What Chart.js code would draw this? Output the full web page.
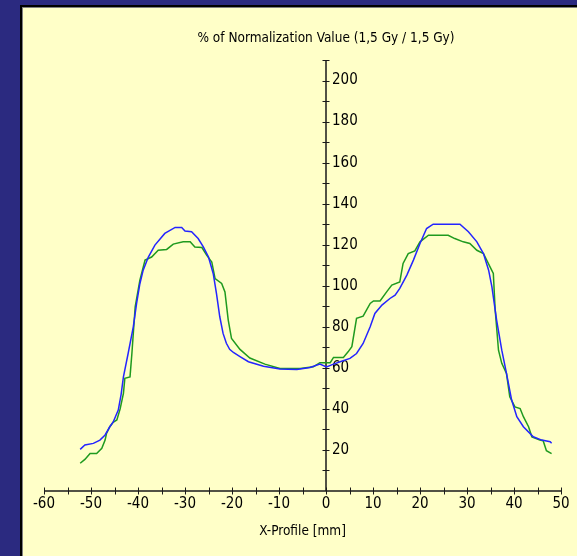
<!DOCTYPE html>
<html><head><meta charset="utf-8">
<script src="https://cdn.jsdelivr.net/npm/chart.js@4/dist/chart.umd.min.js"></script>
<style>html,body{margin:0;padding:0;background:#2b2a80;overflow:hidden}#wrap{position:relative;width:577px;height:556px}canvas{display:block}</style>
</head><body><div id="wrap"><canvas id="c" width="577" height="556"></canvas></div>
<script>
// ---- data ----
const chartTitle = "% of Normalization Value (1,5 Gy / 1,5 Gy)";
const xAxisTitle = "X-Profile [mm]";
const xTickLabels = [-60, -50, -40, -30, -20, -10, 0, 10, 20, 30, 40, 50];
const yTickLabels = [20, 40, 60, 80, 100, 120, 140, 160, 180, 200];
const xMinorStep = 5;
const yMinorStep = 10;

const blueX = [-52.3,-51.3,-49.5,-48.1,-47.0,-46.0,-45.3,-44.2,-43.6,-43.1,-42.1,-41.0,-40.3,-39.6,-38.9,-37.8,-36.4,-34.3,-32.1,-30.7,-30.0,-28.6,-27.2,-26.1,-25.0,-24.0,-23.3,-22.6,-21.9,-21.2,-20.5,-19.7,-18.3,-16.5,-13.3,-9.8,-6.2,-3.4,-1.3,0.1,1.6,3.0,5.1,6.5,7.9,9.4,10.4,11.9,13.6,14.7,15.7,17.2,18.6,20.0,21.4,22.8,28.5,30.3,32.1,33.5,34.6,35.3,36.3,37.4,38.4,39.5,40.6,42.0,44.1,45.9,47.7,48.0];
const blueY = [20.3,22.4,23.2,24.8,27.3,31.3,33.5,39.4,47,55.6,67,80,91.4,101,107.6,114,119.8,125.5,128.4,128.4,126.7,126.3,123,118.9,114,106,96.2,84.9,76.8,72,69,67.5,65.5,63,60.8,59.4,59.2,60.2,61.8,60.5,61.8,63,64.6,67,71.9,80,86.5,90.6,93.8,95.4,98.7,105.2,112.5,120.6,127.9,130,130,126.3,121.4,115.7,107.6,99.5,83.3,68.6,57.3,44.3,36.2,31.3,26.4,24.8,24.0,23.3];

const greenX = [-52.3,-51.3,-50.2,-48.8,-47.7,-47.0,-46.7,-46.0,-45.3,-44.5,-43.8,-43.1,-42.8,-41.7,-41.3,-40.6,-39.6,-38.5,-37.1,-35.7,-33.9,-32.5,-30.4,-28.9,-27.9,-26.4,-25.4,-24.3,-23.6,-22.2,-21.5,-20.8,-20.1,-18.3,-16.2,-13.0,-9.8,-5.5,-2.7,-1.3,0.9,1.6,3.7,4.7,5.5,6.5,7.9,9.4,10.1,11.5,12.9,14.0,15.7,16.4,17.5,18.9,20.0,21.8,26.0,27.4,29.2,30.6,32.1,33.5,34.9,35.6,36.0,36.7,37.4,38.4,39.1,40.2,41.3,42.0,43.1,43.8,45.5,46.2,46.9,48.0];
const greenY = [13.5,15.4,18.3,18.3,20.8,24.8,28,31.3,33.5,34.6,40,47.6,54.9,55.6,67,89.7,102.7,112.5,114,117.3,117.7,120.3,121.4,121.4,118.9,118.6,114.9,111.6,103.5,101.1,97,83.3,74.3,69,64.8,61.8,59.7,59.7,60.5,62.5,62.5,65.1,65.1,67.8,70.3,84.1,85.2,91.4,92.6,92.6,97,100.3,101.9,110.9,115.7,117,121.4,124.6,124.6,123,121.4,120.6,117.3,115.7,109.2,106,88.1,68.6,62.2,57.3,45.9,41,40.2,36.2,31.3,26.4,24.8,24.5,19.6,18.2];

const FONT = '"Liberation Sans Narrow","DejaVu Sans Condensed","Liberation Sans",sans-serif';

function toPoints(xs, ys) { return xs.map((x, i) => ({ x: x, y: ys[i] })); }

const panelPlugin = {
  id: 'panel',
  beforeDraw(chart) {
    const ctx = chart.ctx;
    ctx.save();
    ctx.fillStyle = '#2b2a80';
    ctx.fillRect(0, 0, chart.width, chart.height);
    ctx.fillStyle = '#ffffc8';
    ctx.fillRect(21, 6, chart.width - 21, chart.height - 6);
    ctx.fillStyle = '#000000';
    ctx.fillRect(20, 5, chart.width - 20, 2);
    ctx.fillRect(20, 5, 2, chart.height - 5);
    ctx.fillStyle = '#808080';
    ctx.fillRect(22, 7, chart.width - 22, 1);
    ctx.fillRect(22, 7, 1, chart.height - 7);
    ctx.restore();
  }
};

const axesPlugin = {
  id: 'centerAxes',
  beforeDatasetsDraw(chart) {
    const ctx = chart.ctx;
    const xs = chart.scales.x, ys = chart.scales.y;
    const x0 = xs.getPixelForValue(0), y0 = ys.getPixelForValue(0);
    ctx.save();
    ctx.strokeStyle = '#1a1a1a';
    ctx.fillStyle = '#000000';
    ctx.lineWidth = 1.5;
    ctx.beginPath();
    ctx.moveTo(xs.getPixelForValue(xs.min), y0);
    ctx.lineTo(xs.getPixelForValue(xs.max), y0);
    ctx.moveTo(x0, ys.getPixelForValue(ys.min));
    ctx.lineTo(x0, ys.getPixelForValue(ys.max));
    ctx.stroke();
    ctx.lineWidth = 1;
    ctx.beginPath();
    for (let v = xs.min; v <= xs.max + 1e-9; v += xMinorStep) {
      const px = Math.round(xs.getPixelForValue(v)) + 0.5;
      ctx.moveTo(px, y0 - 3.5); ctx.lineTo(px, y0 + 3.5);
    }
    for (let v = ys.min + yMinorStep; v <= ys.max + 1e-9; v += yMinorStep) {
      const py = Math.round(ys.getPixelForValue(v)) + 0.5;
      ctx.moveTo(x0 - 3.5, py); ctx.lineTo(x0 + 3.5, py);
    }
    ctx.stroke();
    ctx.font = '15px ' + FONT;
    ctx.textBaseline = 'middle';
    ctx.textAlign = 'center';
    xTickLabels.forEach(v => ctx.fillText(String(v), xs.getPixelForValue(v), y0 + 13));
    ctx.textAlign = 'left';
    yTickLabels.forEach(v => ctx.fillText(String(v), x0 + 6, ys.getPixelForValue(v)));
    ctx.textAlign = 'center';
    ctx.font = '13.5px ' + FONT;
    ctx.fillText(xAxisTitle, xs.getPixelForValue((xs.min + xs.max) / 2), y0 + 40);
    ctx.fillText(chartTitle, x0, 38);
    ctx.restore();
  }
};

new Chart(document.getElementById('c'), {
  type: 'line',
  data: {
    datasets: [
      { label: 'Blue', data: toPoints(blueX, blueY), borderColor: '#2424ff', borderWidth: 1.5, pointRadius: 0, tension: 0, fill: false },
      { label: 'Green', data: toPoints(greenX, greenY), borderColor: '#1f9a1f', borderWidth: 1.5, pointRadius: 0, tension: 0, fill: false }
    ]
  },
  options: {
    responsive: false,
    animation: false,
    devicePixelRatio: 1,
    layout: { padding: { left: 44, right: 16, top: 60, bottom: 65 } },
    plugins: { legend: { display: false }, tooltip: { enabled: false }, title: { display: false } },
    scales: {
      x: { type: 'linear', min: -60, max: 50, display: false },
      y: { type: 'linear', min: 0, max: 210, display: false }
    }
  },
  plugins: [panelPlugin, axesPlugin]
});
</script>
</body></html>
